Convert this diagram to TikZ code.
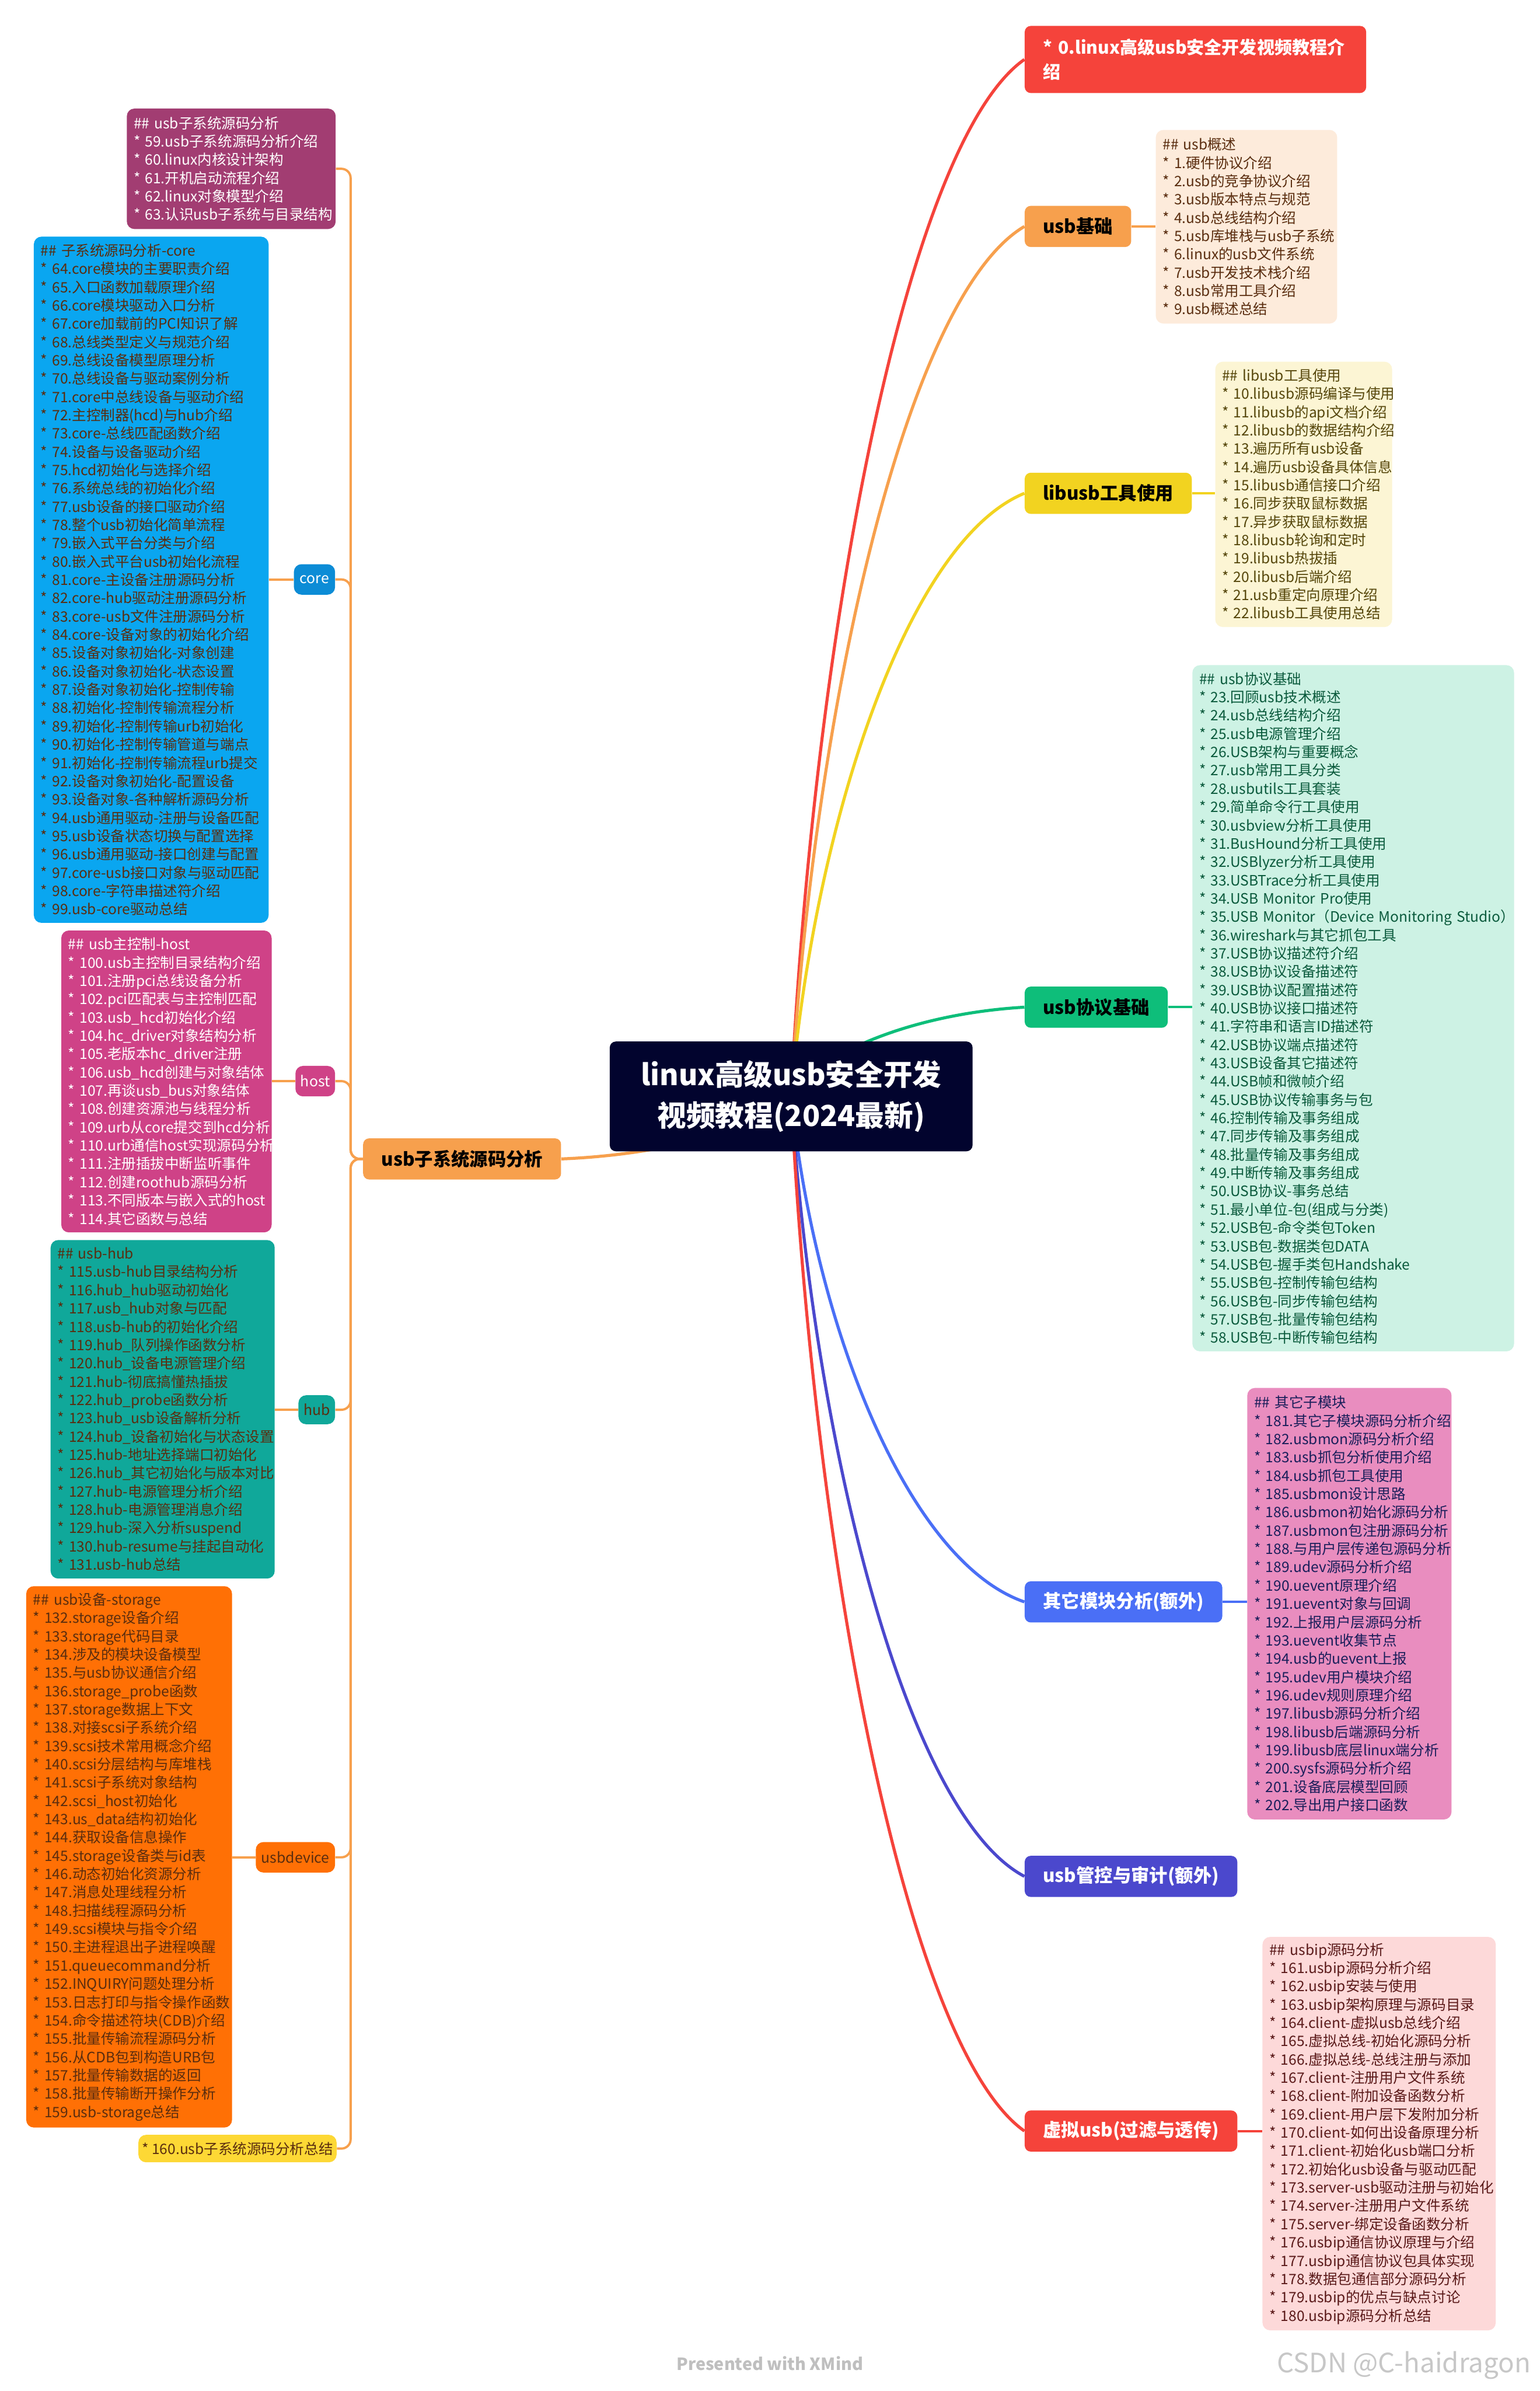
\documentclass[tikz,border=0pt]{standalone}
\usepackage{fontspec}
\setmainfont{Noto Sans CJK SC}
\definecolor{navyroot}{RGB}{2, 4, 46}
\definecolor{introred}{RGB}{245, 67, 59}
\definecolor{basicorange}{RGB}{247, 160, 77}
\definecolor{libyellow}{RGB}{242, 211, 32}
\definecolor{protogreen}{RGB}{14, 190, 122}
\definecolor{otherblue}{RGB}{74, 111, 246}
\definecolor{auditindigo}{RGB}{75, 72, 205}
\definecolor{subpurple}{RGB}{162, 61, 114}
\definecolor{coreblue}{RGB}{10, 166, 240}
\definecolor{coretag}{RGB}{12, 140, 214}
\definecolor{hostpink}{RGB}{207, 66, 135}
\definecolor{hubteal}{RGB}{16, 168, 154}
\definecolor{devorange}{RGB}{255, 112, 5}
\definecolor{sumyellow}{RGB}{253, 216, 53}
\definecolor{peachbg}{RGB}{253, 235, 219}
\definecolor{lemonbg}{RGB}{252, 245, 212}
\definecolor{mintbg}{RGB}{205, 242, 228}
\definecolor{pinkbg}{RGB}{233, 141, 191}
\definecolor{rosebg}{RGB}{253, 217, 217}
\definecolor{browntxt}{RGB}{90, 45, 15}
\definecolor{olivetxt}{RGB}{85, 70, 10}
\definecolor{greentxt}{RGB}{10, 90, 60}
\definecolor{navytxt}{RGB}{25, 30, 90}
\definecolor{redtxt}{RGB}{90, 25, 25}
\usetikzlibrary{positioning, calc, backgrounds}

% list bullet
\newcommand{\itm}{*\nobreakspace}

\tikzset{
    topic/.style={rounded corners=4pt, minimum height=27pt, inner xsep=12pt, inner ysep=0pt,
                  anchor=west, font=\fontsize{12}{14}\selectfont\bfseries},
    detail/.style={rounded corners=5pt, anchor=north west, align=left, inner xsep=4.5pt, inner ysep=0pt,
                   font=\fontsize{9.4}{12}\selectfont},
    tag/.style={rounded corners=5pt, minimum height=20pt, inner sep=0pt, anchor=east,
                font=\fontsize{9.5}{11}\selectfont},
    branch/.style={line width=2pt},
    stub/.style={line width=1.5pt}
}

\begin{document}
\begin{tikzpicture}[x=1pt, y=-1pt]
    \useasboundingbox (0,0) rectangle (1010,1568);
    \hyphenpenalty=10000 \exhyphenpenalty=10000

    % Root
    \node[fill=navyroot, text=white, rounded corners=4pt, minimum width=238pt, minimum height=72pt,
          align=center, font=\fontsize{19}{27}\selectfont\bfseries] (root) at (519,719)
          {linux高级usb安全开发\\视频教程(2024最新)};

    % Right topics
    \node[topic, fill=introred, text=white, minimum height=44pt, text width=200pt, align=left,
          font=\fontsize{11.5}{16}\selectfont\bfseries] (intro) at (672,39)
          {\itm 0.linux高级usb安全开发视频教程介\\绍};
    \node[topic, fill=basicorange, minimum width=68pt] (basic) at (672,148.5) {usb基础};
    \node[topic, fill=libyellow, minimum width=106pt] (libusb) at (672,323.5) {libusb工具使用};
    \node[topic, fill=protogreen, minimum width=92pt] (proto) at (672,660.5) {usb协议基础};
    \node[topic, fill=otherblue, text=white, minimum width=129pt] (other) at (672,1050.5) {其它模块分析(额外)};
    \node[topic, fill=auditindigo, text=white, minimum width=137pt] (audit) at (672,1230.5) {usb管控与审计(额外)};
    \node[topic, fill=introred, text=white, minimum width=136pt] (virt) at (672,1397.5) {虚拟usb(过滤与透传)};

    % Right details
    \node[detail, fill=peachbg, text=browntxt, text width=110pt, minimum height=127pt] (basicbox) at (758,85)
        {\#\#~usb概述\\\itm 1.硬件协议介绍\\\itm 2.usb的竞争协议介绍\\\itm 3.usb版本特点与规范\\\itm 4.usb总线结构介绍\\\itm 5.usb库堆栈与usb子系统\\\itm 6.linux的usb文件系统\\\itm 7.usb开发技术栈介绍\\\itm 8.usb常用工具介绍\\\itm 9.usb概述总结};
    \node[detail, fill=lemonbg, text=olivetxt, text width=107pt, minimum height=174pt] (libbox) at (797,237)
        {\#\#~libusb工具使用\\\itm 10.libusb源码编译与使用\\\itm 11.libusb的api文档介绍\\\itm 12.libusb的数据结构介绍\\\itm 13.遍历所有usb设备\\\itm 14.遍历usb设备具体信息\\\itm 15.libusb通信接口介绍\\\itm 16.同步获取鼠标数据\\\itm 17.异步获取鼠标数据\\\itm 18.libusb轮询和定时\\\itm 19.libusb热拔插\\\itm 20.libusb后端介绍\\\itm 21.usb重定向原理介绍\\\itm 22.libusb工具使用总结};
    \node[detail, fill=mintbg, text=greentxt, text width=202pt, minimum height=450pt] (protobox) at (782,436)
        {\#\#~usb协议基础\\\itm 23.回顾usb技术概述\\\itm 24.usb总线结构介绍\\\itm 25.usb电源管理介绍\\\itm 26.USB架构与重要概念\\\itm 27.usb常用工具分类\\\itm 28.usbutils工具套装\\\itm 29.简单命令行工具使用\\\itm 30.usbview分析工具使用\\\itm 31.BusHound分析工具使用\\\itm 32.USBlyzer分析工具使用\\\itm 33.USBTrace分析工具使用\\\itm 34.USB~Monitor~Pro使用\\\itm 35.USB~Monitor（Device~Monitoring~Studio）\\\itm 36.wireshark与其它抓包工具\\\itm 37.USB协议描述符介绍\\\itm 38.USB协议设备描述符\\\itm 39.USB协议配置描述符\\\itm 40.USB协议接口描述符\\\itm 41.字符串和语言ID描述符\\\itm 42.USB协议端点描述符\\\itm 43.USB设备其它描述符\\\itm 44.USB帧和微帧介绍\\\itm 45.USB协议传输事务与包\\\itm 46.控制传输及事务组成\\\itm 47.同步传输及事务组成\\\itm 48.批量传输及事务组成\\\itm 49.中断传输及事务组成\\\itm 50.USB协议-事务总结\\\itm 51.最小单位-包(组成与分类)\\\itm 52.USB包-命令类包Token\\\itm 53.USB包-数据类包DATA\\\itm 54.USB包-握手类包Handshake\\\itm 55.USB包-控制传输包结构\\\itm 56.USB包-同步传输包结构\\\itm 57.USB包-批量传输包结构\\\itm 58.USB包-中断传输包结构};
    \node[detail, fill=pinkbg, text=navytxt, text width=125pt, minimum height=283pt] (otherbox) at (818,910)
        {\#\#~其它子模块\\\itm 181.其它子模块源码分析介绍\\\itm 182.usbmon源码分析介绍\\\itm 183.usb抓包分析使用介绍\\\itm 184.usb抓包工具使用\\\itm 185.usbmon设计思路\\\itm 186.usbmon初始化源码分析\\\itm 187.usbmon包注册源码分析\\\itm 188.与用户层传递包源码分析\\\itm 189.udev源码分析介绍\\\itm 190.uevent原理介绍\\\itm 191.uevent对象与回调\\\itm 192.上报用户层源码分析\\\itm 193.uevent收集节点\\\itm 194.usb的uevent上报\\\itm 195.udev用户模块介绍\\\itm 196.udev规则原理介绍\\\itm 197.libusb源码分析介绍\\\itm 198.libusb后端源码分析\\\itm 199.libusb底层linux端分析\\\itm 200.sysfs源码分析介绍\\\itm 201.设备底层模型回顾\\\itm 202.导出用户接口函数};
    \node[detail, fill=rosebg, text=redtxt, text width=144pt, minimum height=258pt] (virtbox) at (828,1270)
        {\#\#~usbip源码分析\\\itm 161.usbip源码分析介绍\\\itm 162.usbip安装与使用\\\itm 163.usbip架构原理与源码目录\\\itm 164.client-虚拟usb总线介绍\\\itm 165.虚拟总线-初始化源码分析\\\itm 166.虚拟总线-总线注册与添加\\\itm 167.client-注册用户文件系统\\\itm 168.client-附加设备函数分析\\\itm 169.client-用户层下发附加分析\\\itm 170.client-如何出设备原理分析\\\itm 171.client-初始化usb端口分析\\\itm 172.初始化usb设备与驱动匹配\\\itm 173.server-usb驱动注册与初始化\\\itm 174.server-注册用户文件系统\\\itm 175.server-绑定设备函数分析\\\itm 176.usbip通信协议原理与介绍\\\itm 177.usbip通信协议包具体实现\\\itm 178.数据包通信部分源码分析\\\itm 179.usbip的优点与缺点讨论\\\itm 180.usbip源码分析总结};

    % Left topic
    \node[topic, fill=basicorange, minimum width=128pt] (subsys) at (238,760) {usb子系统源码分析};
    \coordinate (trunk) at (230,760);

    % Left children
    \node[detail, fill=subpurple, text=white, text width=128pt, minimum height=79pt] (introbox) at (83,71)
        {\#\#~usb子系统源码分析\\\itm 59.usb子系统源码分析介绍\\\itm 60.linux内核设计架构\\\itm 61.开机启动流程介绍\\\itm 62.linux对象模型介绍\\\itm 63.认识usb子系统与目录结构};
    \node[tag, fill=coretag, text=white, minimum width=27pt] (core) at (220,380) {core};
    \node[tag, fill=hostpink, text=white, minimum width=26pt] (host) at (220,709) {host};
    \node[tag, fill=hubteal, text=browntxt, minimum width=24pt, minimum height=19pt] (hub) at (220,924.5) {hub};
    \node[tag, fill=devorange, text=browntxt, minimum width=52pt] (usbdev) at (220,1218) {usbdevice};
    \node[tag, fill=sumyellow, text=browntxt, minimum width=130pt, minimum height=18pt,
          font=\fontsize{9.4}{11}\selectfont] (summary) at (221,1409) {\itm 160.usb子系统源码分析总结};

    \node[detail, fill=coreblue, text=browntxt, text width=145pt, minimum height=450pt] (corebox) at (22,155)
        {\#\#~子系统源码分析-core\\\itm 64.core模块的主要职责介绍\\\itm 65.入口函数加载原理介绍\\\itm 66.core模块驱动入口分析\\\itm 67.core加载前的PCI知识了解\\\itm 68.总线类型定义与规范介绍\\\itm 69.总线设备模型原理分析\\\itm 70.总线设备与驱动案例分析\\\itm 71.core中总线设备与驱动介绍\\\itm 72.主控制器(hcd)与hub介绍\\\itm 73.core-总线匹配函数介绍\\\itm 74.设备与设备驱动介绍\\\itm 75.hcd初始化与选择介绍\\\itm 76.系统总线的初始化介绍\\\itm 77.usb设备的接口驱动介绍\\\itm 78.整个usb初始化简单流程\\\itm 79.嵌入式平台分类与介绍\\\itm 80.嵌入式平台usb初始化流程\\\itm 81.core-主设备注册源码分析\\\itm 82.core-hub驱动注册源码分析\\\itm 83.core-usb文件注册源码分析\\\itm 84.core-设备对象的初始化介绍\\\itm 85.设备对象初始化-对象创建\\\itm 86.设备对象初始化-状态设置\\\itm 87.设备对象初始化-控制传输\\\itm 88.初始化-控制传输流程分析\\\itm 89.初始化-控制传输urb初始化\\\itm 90.初始化-控制传输管道与端点\\\itm 91.初始化-控制传输流程urb提交\\\itm 92.设备对象初始化-配置设备\\\itm 93.设备对象-各种解析源码分析\\\itm 94.usb通用驱动-注册与设备匹配\\\itm 95.usb设备状态切换与配置选择\\\itm 96.usb通用驱动-接口创建与配置\\\itm 97.core-usb接口对象与驱动匹配\\\itm 98.core-字符串描述符介绍\\\itm 99.usb-core驱动总结};
    \node[detail, fill=hostpink, text=white, text width=129pt, minimum height=198pt] (hostbox) at (40,610)
        {\#\#~usb主控制-host\\\itm 100.usb主控制目录结构介绍\\\itm 101.注册pci总线设备分析\\\itm 102.pci匹配表与主控制匹配\\\itm 103.usb\_hcd初始化介绍\\\itm 104.hc\_driver对象结构分析\\\itm 105.老版本hc\_driver注册\\\itm 106.usb\_hcd创建与对象结体\\\itm 107.再谈usb\_bus对象结体\\\itm 108.创建资源池与线程分析\\\itm 109.urb从core提交到hcd分析\\\itm 110.urb通信host实现源码分析\\\itm 111.注册插拔中断监听事件\\\itm 112.创建roothub源码分析\\\itm 113.不同版本与嵌入式的host\\\itm 114.其它函数与总结};
    \node[detail, fill=hubteal, text=browntxt, text width=138pt, minimum height=222pt] (hubbox) at (33,813)
        {\#\#~usb-hub\\\itm 115.usb-hub目录结构分析\\\itm 116.hub\_hub驱动初始化\\\itm 117.usb\_hub对象与匹配\\\itm 118.usb-hub的初始化介绍\\\itm 119.hub\_队列操作函数分析\\\itm 120.hub\_设备电源管理介绍\\\itm 121.hub-彻底搞懂热插拔\\\itm 122.hub\_probe函数分析\\\itm 123.hub\_usb设备解析分析\\\itm 124.hub\_设备初始化与状态设置\\\itm 125.hub-地址选择端口初始化\\\itm 126.hub\_其它初始化与版本对比\\\itm 127.hub-电源管理分析介绍\\\itm 128.hub-电源管理消息介绍\\\itm 129.hub-深入分析suspend\\\itm 130.hub-resume与挂起自动化\\\itm 131.usb-hub总结};
    \node[detail, fill=devorange, text=browntxt, text width=126pt, minimum height=355pt] (devbox) at (17,1040)
        {\#\#~usb设备-storage\\\itm 132.storage设备介绍\\\itm 133.storage代码目录\\\itm 134.涉及的模块设备模型\\\itm 135.与usb协议通信介绍\\\itm 136.storage\_probe函数\\\itm 137.storage数据上下文\\\itm 138.对接scsi子系统介绍\\\itm 139.scsi技术常用概念介绍\\\itm 140.scsi分层结构与库堆栈\\\itm 141.scsi子系统对象结构\\\itm 142.scsi\_host初始化\\\itm 143.us\_data结构初始化\\\itm 144.获取设备信息操作\\\itm 145.storage设备类与id表\\\itm 146.动态初始化资源分析\\\itm 147.消息处理线程分析\\\itm 148.扫描线程源码分析\\\itm 149.scsi模块与指令介绍\\\itm 150.主进程退出子进程唤醒\\\itm 151.queuecommand分析\\\itm 152.INQUIRY问题处理分析\\\itm 153.日志打印与指令操作函数\\\itm 154.命令描述符块(CDB)介绍\\\itm 155.批量传输流程源码分析\\\itm 156.从CDB包到构造URB包\\\itm 157.批量传输数据的返回\\\itm 158.批量传输断开操作分析\\\itm 159.usb-storage总结};

    % Footer
    \node[text=black!25, font=\fontsize{11}{13}\selectfont\bfseries] (credit) at (505,1550) {Presented with XMind};
    \node[text=black!22, font=\fontsize{17.5}{20}\selectfont] (mark) at (921,1551) {CSDN @C-haidragon};

    % Connectors
    \begin{scope}[on background layer]
        \fill[white] (0,0) rectangle (1010,1568);
        \draw[branch, introred] (root.center) .. controls (534,413) and (595,93) .. (intro.west);
        \draw[branch, basicorange] (root.center) .. controls (534,462) and (595,194) .. (basic.west);
        \draw[branch, libyellow] (root.center) .. controls (534,541) and (595,355) .. (libusb.west);
        \draw[branch, protogreen] (root.center) .. controls (534,693) and (595,665) .. (proto.west);
        \draw[branch, otherblue] (root.center) .. controls (534,868) and (595,1024) .. (other.west);
        \draw[branch, auditindigo] (root.center) .. controls (534,949) and (595,1190) .. (audit.west);
        \draw[branch, introred] (root.center) .. controls (534,1024) and (595,1343) .. (virt.west);
        \draw[branch, basicorange] (root.center) .. controls (504,737) and (443,757) .. (subsys.east);

        \draw[stub, basicorange] (basic.east) -- (basic.east -| basicbox.west);
        \draw[stub, libyellow] (libusb.east) -- (libusb.east -| libbox.west);
        \draw[stub, protogreen] (proto.east) -- (proto.east -| protobox.west);
        \draw[stub, otherblue] (other.east) -- (other.east -| otherbox.west);
        \draw[stub, introred] (virt.east) -- (virt.east -| virtbox.west);

        \foreach \kid in {introbox, core, host, hub, usbdev, summary}
            \draw[stub, basicorange, rounded corners=6pt] (subsys.west) -- (trunk) |- (\kid.east);

        \draw[stub, basicorange] (core.west) -- (core.west -| corebox.east);
        \draw[stub, basicorange] (host.west) -- (host.west -| hostbox.east);
        \draw[stub, basicorange] (hub.west) -- (hub.west -| hubbox.east);
        \draw[stub, basicorange] (usbdev.west) -- (usbdev.west -| devbox.east);
    \end{scope}
\end{tikzpicture}
\end{document}
